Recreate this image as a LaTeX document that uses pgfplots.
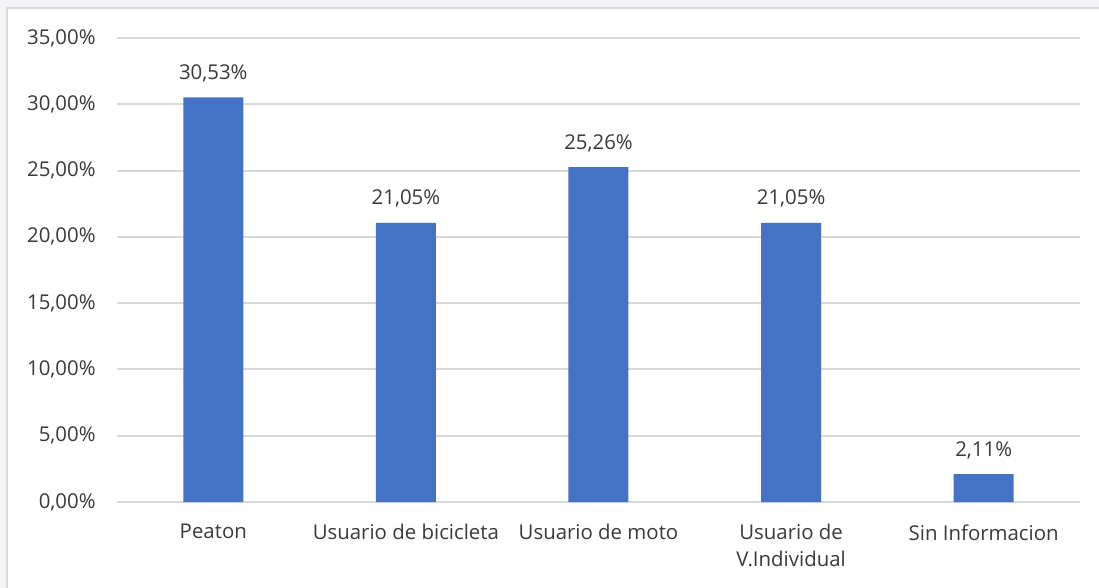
\documentclass[border=0pt]{standalone}
\usepackage{fontspec}
\setmainfont{Open Sans}
\usepackage{pgfplots}
\pgfplotsset{compat=1.18}
\definecolor{barblue}{HTML}{4472C4}
\definecolor{gridgray}{HTML}{D9D9D9}
\definecolor{txt}{HTML}{3A3A3A}
\definecolor{bg}{HTML}{F2F4F7}
\definecolor{framec}{HTML}{D9D9D9}
\begin{document}
\fontsize{10.2bp}{13.5bp}\selectfont
\begin{tikzpicture}
\useasboundingbox (-58.5bp,-43bp) rectangle (491bp,251bp);
\fill[bg] (-58.5bp,-43bp) rectangle (491bp,251bp);
\filldraw[fill=white, draw=framec, line width=1.2bp] (-55bp,-60bp) rectangle (510bp,247bp);
\begin{axis}[
  at={(0,0)}, anchor=south west,
  scale only axis, width=481.5bp, height=232bp,
  ybar, bar width=30bp,
  xmin=-0.5, xmax=4.5, ymin=0, ymax=35,
  xtick={0,1,2,3,4},
  xticklabels={Peaton, Usuario de bicicleta, Usuario de moto, {Usuario de\\V.Individual}, Sin Informacion},
  ytick={0,5,10,15,20,25,30,35},
  ymajorgrids, major grid style={draw=gridgray, line width=1bp},
  axis line style={draw=none},
  major tick length=0pt,
  /pgf/number format/assume math mode=true,
  yticklabel={\pgfmathprintnumber[use comma, fixed, fixed zerofill, precision=2]{\tick}\%},
  yticklabel style={anchor=east, inner sep=0pt, xshift=-10.5bp, text=txt},
  xticklabel style={anchor=north, inner sep=0pt, yshift=-11bp, align=center, text=txt},
  nodes near coords={\pgfmathprintnumber[use comma, fixed, fixed zerofill, precision=2, assume math mode=true]{\pgfplotspointmeta}\%},
  nodes near coords style={anchor=base, inner sep=0pt, yshift=9bp, text=txt},
  clip=false,
]
\addplot[fill=barblue, draw=none] coordinates {(0,30.53) (1,21.05) (2,25.26) (3,21.05) (4,2.11)};
\end{axis}
\end{tikzpicture}
\end{document}
